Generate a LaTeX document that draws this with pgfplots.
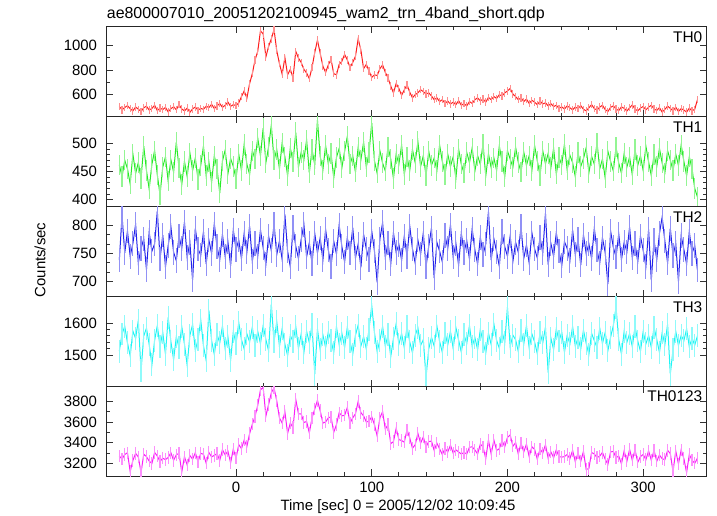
\documentclass[border=0pt]{standalone}
\usepackage{fontspec}
\setmainfont{Liberation Sans}
\usepackage{pgfplots}
\usepackage{pgfplotstable}
\pgfplotsset{compat=1.18}

\definecolor{cTH0}{RGB}{255,30,30}
\definecolor{cTH1}{RGB}{40,235,40}
\definecolor{cTH2}{RGB}{35,35,235}
\definecolor{cTH3}{RGB}{30,245,245}
\definecolor{cTHall}{RGB}{250,30,250}

% x th0 th1 th2 th3 th0123  (2 s bins)
\pgfplotstableread{
x th0 th1 th2 th3 sum
-86 505 462 738 1512 3271
-84 478 441 818 1566 3240
-82 497 470 751 1590 3285
-80 512 455 790 1538 3302
-78 488 428 745 1497 3120
-76 470 481 768 1575 3228
-74 501 447 802 1552 3296
-72 483 466 733 1608 3262
-70 466 438 759 1450 3110
-68 494 495 776 1560 3288
-66 508 452 721 1584 3265
-64 476 419 788 1533 3221
-62 489 463 754 1469 3198
-60 515 487 767 1546 3305
-58 472 444 826 1592 3270
-56 493 409 740 1527 3218
-54 480 458 783 1571 3249
-52 498 476 726 1503 3236
-50 462 433 764 1618 3257
-48 487 471 798 1542 3302
-46 503 449 752 1486 3228
-44 479 502 737 1557 3283
-42 520 456 781 1523 3297
-40 485 427 759 1589 3115
-38 470 468 806 1534 3264
-36 492 441 743 1468 3184
-34 458 483 770 1562 3275
-32 486 452 702 1596 3240
-30 501 474 795 1515 3302
-28 475 436 758 1548 3214
-26 490 461 747 1610 3296
-24 482 495 789 1529 3288
-22 507 443 731 1483 3201
-20 496 467 774 1640 3305
-18 523 431 750 1545 3262
-16 488 478 803 1502 3277
-14 510 455 762 1564 3294
-12 529 412 739 1538 3228
-10 498 469 784 1591 3332
-8 515 488 745 1520 3281
-6 541 446 771 1557 3319
-4 506 473 728 1484 3205
-2 520 459 792 1573 3338
0 512 437 757 1535 3250
2 534 481 774 1602 3381
4 585 452 741 1548 3342
6 630 498 786 1519 3425
8 572 463 753 1566 3364
10 690 445 799 1541 3488
12 770 487 736 1587 3578
14 880 472 768 1529 3655
16 950 509 745 1574 3762
18 1115 478 792 1536 3912
20 1090 527 760 1592 3935
22 905 466 731 1548 3658
24 990 494 781 1513 3770
26 1050 532 755 1660 3884
28 1125 470 803 1541 3930
30 955 489 748 1605 3805
32 850 455 772 1527 3640
34 765 501 739 1583 3590
36 900 476 820 1534 3700
38 760 443 754 1498 3490
40 805 492 726 1561 3590
42 735 467 797 1542 3545
44 950 519 763 1590 3820
46 895 458 741 1521 3680
48 860 484 775 1566 3680
50 805 471 802 1508 3595
52 775 506 744 1574 3605
54 730 448 769 1539 3495
56 820 489 732 1595 3640
58 940 462 786 1440 3725
60 1040 541 751 1581 3810
62 935 477 778 1517 3710
64 830 453 738 1563 3590
66 780 496 793 1524 3600
68 840 464 756 1572 3640
70 885 482 727 1546 3650
72 770 439 772 1508 3500
74 760 475 749 1589 3575
76 845 491 801 1533 3690
78 870 457 762 1568 3660
80 925 486 735 1524 3665
82 880 512 778 1587 3740
84 820 463 751 1541 3590
86 860 478 796 1503 3640
88 910 449 742 1562 3680
90 1050 493 767 1594 3800
92 960 471 725 1528 3690
94 810 502 784 1557 3660
96 845 458 758 1519 3600
98 790 484 739 1581 3610
100 740 536 790 1655 3650
102 760 469 754 1570 3575
104 755 447 698 1511 3465
106 810 487 776 1546 3640
108 840 465 805 1589 3700
110 780 451 743 1528 3530
112 735 494 769 1563 3575
114 670 472 731 1495 3390
116 615 438 787 1552 3410
118 690 481 752 1598 3540
120 650 463 766 1534 3430
122 595 497 738 1567 3420
124 640 445 781 1523 3405
126 680 476 745 1589 3525
128 620 452 799 1541 3445
130 575 489 758 1507 3345
132 600 466 733 1562 3380
134 615 503 774 1585 3490
136 640 459 749 1530 3395
138 625 478 787 1548 3455
140 605 443 726 1430 3360
142 615 486 763 1519 3410
144 590 461 795 1556 3415
146 560 474 706 1528 3325
148 575 452 770 1591 3395
150 545 497 754 1543 3340
152 560 468 735 1508 3285
154 530 445 782 1569 3345
156 548 481 759 1532 3310
158 525 459 801 1574 3375
160 540 476 744 1521 3300
162 520 438 768 1586 3330
164 552 490 729 1547 3310
166 515 463 786 1509 3290
168 528 447 752 1563 3305
170 510 484 773 1536 3290
172 545 466 740 1592 3355
174 530 492 794 1528 3360
176 560 451 756 1555 3330
178 575 478 731 1517 3290
180 550 463 779 1580 3385
182 565 499 748 1541 3360
184 540 442 767 1506 3245
186 578 481 825 1568 3425
188 560 457 738 1533 3290
190 585 474 776 1597 3425
192 570 452 753 1546 3325
194 600 495 727 1521 3340
196 590 468 789 1574 3420
198 615 441 762 1539 3360
200 630 487 745 1650 3450
202 650 472 781 1527 3475
204 605 458 736 1562 3365
206 585 493 770 1548 3400
208 560 466 752 1511 3290
210 575 449 798 1576 3395
212 545 485 741 1534 3310
214 565 461 765 1592 3385
216 530 478 733 1523 3265
218 555 452 787 1566 3360
220 540 496 758 1541 3335
222 520 469 742 1504 3240
224 548 443 779 1571 3340
226 525 487 751 1538 3300
228 535 464 822 1587 3380
230 510 482 730 1445 3250
232 528 457 768 1553 3310
234 505 491 745 1517 3255
236 515 446 787 1582 3330
238 490 475 754 1544 3265
240 502 462 728 1572 3260
242 485 498 771 1509 3265
244 510 453 759 1561 3285
246 495 479 737 1535 3245
248 478 466 792 1589 3325
250 500 441 748 1528 3215
252 488 484 775 1554 3300
254 512 459 729 1519 3220
256 482 473 783 1578 3315
258 470 492 750 1537 3140
260 495 448 767 1502 3150
262 520 477 741 1568 3305
264 488 463 795 1545 3290
266 476 501 756 1523 3255
268 500 455 733 1584 3270
270 515 472 778 1536 3305
272 480 439 752 1571 3240
274 465 486 695 1514 3190
276 498 468 790 1556 3310
278 510 451 761 1592 3315
280 485 493 744 1650 3255
282 472 465 785 1548 3270
284 502 447 739 1503 3195
286 490 482 770 1575 3320
288 468 458 753 1540 3220
290 495 476 797 1567 3335
292 518 444 742 1526 3230
294 484 489 768 1589 3330
296 470 461 735 1544 3210
298 492 478 781 1512 3265
300 505 452 756 1573 3285
302 478 495 727 1535 3235
304 500 467 793 1561 3320
306 515 443 702 1524 3230
308 486 480 774 1587 3325
310 473 459 739 1549 3220
312 495 491 786 1508 3280
314 460 465 815 1570 3245
316 482 448 772 1533 3235
318 508 487 733 1596 3325
320 490 470 795 1440 3295
322 470 452 746 1517 3120
324 499 481 768 1574 3320
326 465 461 700 1530 3195
328 488 497 782 1561 3330
330 476 468 757 1545 3245
332 460 443 731 1582 3110
334 492 476 789 1526 3285
336 470 455 750 1553 3230
338 483 420 764 1531 3200
340 560 405 720 1560 3250
}\lcdata

\pgfplotsset{
  qdp/.style={
    width=599.3bp, height=89.8bp, scale only axis,
    xmin=-95.3, xmax=346.3,
    xtick={0,100,200,300}, minor x tick num=4,
    axis line style={line width=1bp, black!85},
    every tick/.style={black!80, line width=0.8bp},
    major tick length=6.5bp, minor tick length=3.5bp,
    tick align=inside,
    /pgf/number format/assume math mode=true,
    /pgf/number format/1000 sep={},
    ticklabel style={font=\fontsize{15}{15}\selectfont, inner sep=0pt},
    yticklabel style={xshift=-9.5bp},
    xticklabel style={yshift=-5.5bp},
    anchor=south west,
    clip=true,
  },
  curve/.style={#1, line width=1bp,
    error bars/.cd, y dir=both, y fixed=\errval,
    error bar style={#1!50, line width=1.1bp}, error mark=none},
}
\newcommand{\errval}{15}
\newcommand{\panellabel}[1]{\node[anchor=north east, inner sep=0pt,
  font=\fontsize{15.5}{15.5}\selectfont] at (rel axis cs:1,1) [xshift=-3.5bp, yshift=-4.7bp] {#1};}

\begin{document}
\begin{tikzpicture}
% TH0
\begin{axis}[qdp, at={(0bp,359.2bp)}, ymin=422, ymax=1146,
  ytick={600,800,1000}, minor y tick num=1, xticklabels={}]
\renewcommand{\errval}{30}
\addplot[curve=cTH0] table[x=x, y=th0]{\lcdata};
\panellabel{TH0}
\end{axis}
% TH1
\begin{axis}[qdp, at={(0bp,269.4bp)}, ymin=388, ymax=547,
  ytick={400,450,500}, minor y tick num=4, xticklabels={}]
\renewcommand{\errval}{18}
\addplot[curve=cTH1] table[x=x, y=th1]{\lcdata};
\panellabel{TH1}
\end{axis}
% TH2
\begin{axis}[qdp, at={(0bp,179.6bp)}, ymin=673, ymax=834,
  ytick={700,750,800}, minor y tick num=2, xticklabels={}]
\renewcommand{\errval}{22}
\addplot[curve=cTH2] table[x=x, y=th2]{\lcdata};
\panellabel{TH2}
\end{axis}
% TH3
\begin{axis}[qdp, at={(0bp,89.8bp)}, ymin=1402, ymax=1684,
  ytick={1500,1600}, minor y tick num=4, xticklabels={}]
\renewcommand{\errval}{36}
\addplot[curve=cTH3] table[x=x, y=th3]{\lcdata};
\panellabel{TH3}
\end{axis}
% TH0123
\begin{axis}[qdp, at={(0bp,0bp)}, ymin=3077, ymax=3947,
  ytick={3200,3400,3600,3800}, minor y tick num=1]
\renewcommand{\errval}{60}
\addplot[curve=cTHall] table[x=x, y=sum]{\lcdata};
\panellabel{TH0123}
\end{axis}

\node[anchor=base west, inner sep=0pt, font=\fontsize{16}{16}\selectfont]
  at (0bp,457bp) {ae800007010\_20051202100945\_wam2\_trn\_4band\_short.qdp};
\node[rotate=90, inner sep=0pt, font=\fontsize{15}{15}\selectfont]
  at (-66.7bp,216bp) {Counts/sec};
\node[inner sep=0pt, font=\fontsize{15}{15}\selectfont]
  at (291.3bp,-31bp) {Time [sec] 0 = 2005/12/02 10:09:45};

\pgfresetboundingbox
\path[use as bounding box] (-106.7bp,-40bp) rectangle (610.3bp,476bp);
\end{tikzpicture}
\end{document}
